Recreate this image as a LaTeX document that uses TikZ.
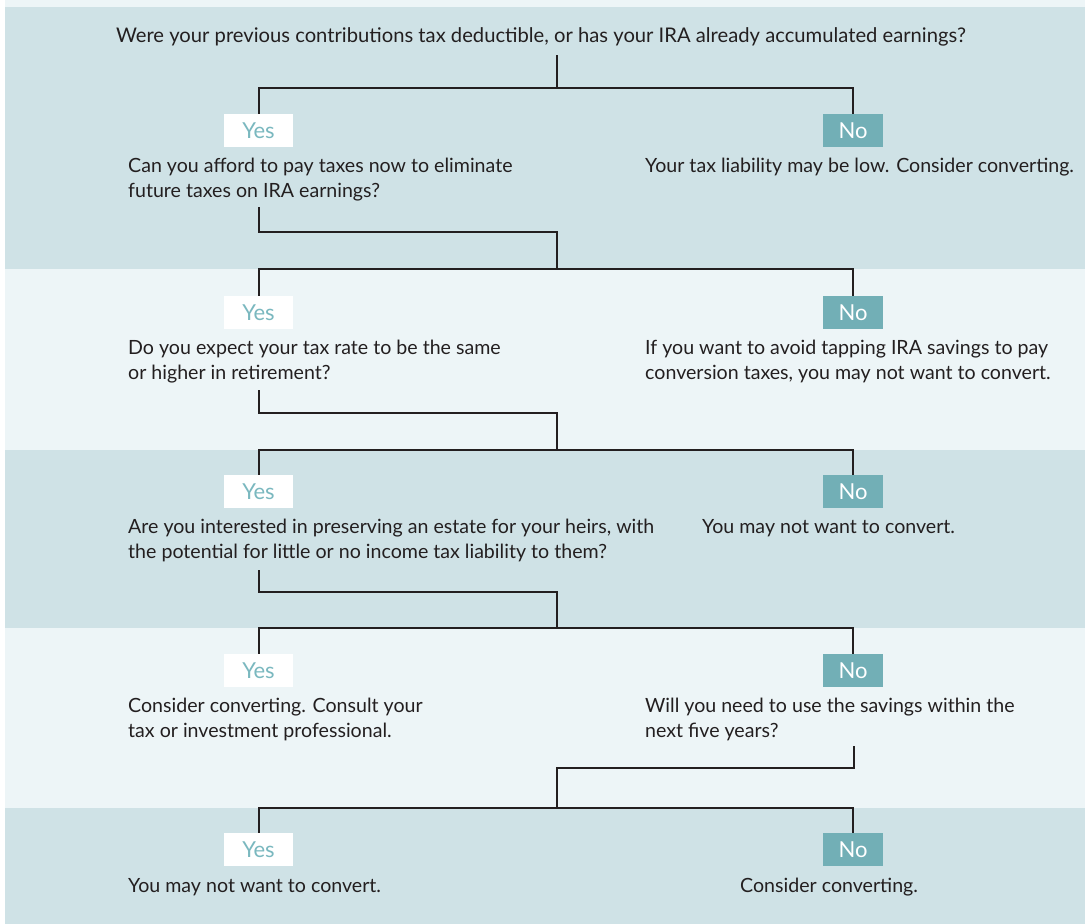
\documentclass[tikz,border=0pt]{standalone}
\usepackage{fontspec}
\setmainfont{Lato}
\definecolor{bandDark}{HTML}{CFE2E6}
\definecolor{bandLight}{HTML}{EDF5F7}
\definecolor{teal}{HTML}{72AFB6}
\definecolor{yesText}{HTML}{7AB8BF}
\definecolor{ink}{HTML}{231F20}
\begin{document}
\begin{tikzpicture}[x=1pt,y=-1pt,
  txt/.style={anchor=base west, inner sep=0pt, align=left, text=ink,
    font=\fontsize{19.6}{25}\selectfont},
  yesbox/.style={fill=white, text=yesText, minimum width=69pt, minimum height=33pt,
    inner sep=0pt, font=\fontsize{22}{24}\selectfont},
  nobox/.style={fill=teal, text=white, minimum width=60pt, minimum height=33pt,
    inner sep=0pt, font=\fontsize{22}{24}\selectfont},
  conn/.style={draw=ink, line width=2pt}]
\useasboundingbox (0,0) rectangle (1085,924);
% bands
\fill[bandLight] (5,0) rectangle (1085,924);
\fill[bandDark] (5,7) rectangle (1085,269);
\fill[bandDark] (5,450) rectangle (1085,628);
\fill[bandDark] (5,808) rectangle (1085,924);

% question 1
\node[anchor=base, inner sep=0pt, text=ink, font=\fontsize{20.2}{25}\selectfont] (q1) at (541,42)
  {Were your previous contributions tax deductible, or has your IRA already accumulated earnings?};

% row 1 (two-line nodes: base anchor = last line)
\node[yesbox] (y1) at (258.5,130.5) {Yes};
\node[nobox] (n1) at (853,130.5) {No};
\node[txt] (ty1) at (128,197) {Can you afford to pay taxes now to eliminate\\future taxes on IRA earnings?};
\node[txt] (tn1) at (645,172) {Your tax liability may be low. Consider converting.};

% row 2
\node[yesbox] (y2) at (258.5,312.5) {Yes};
\node[nobox] (n2) at (853,312.5) {No};
\node[txt] (ty2) at (128,379) {Do you expect your tax rate to be the same\\or higher in retirement?};
\node[txt] (tn2) at (645,379) {If you want to avoid tapping IRA savings to pay\\conversion taxes, you may not want to convert.};

% row 3
\node[yesbox] (y3) at (258.5,491.5) {Yes};
\node[nobox] (n3) at (853,491.5) {No};
\node[txt] (ty3) at (128,558) {Are you interested in preserving an estate for your heirs, with\\the potential for little or no income tax liability to them?};
\node[txt] (tn3) at (702,533) {You may not want to convert.};

% row 4
\node[yesbox] (y4) at (258.5,670.5) {Yes};
\node[nobox] (n4) at (853,670.5) {No};
\node[txt] (ty4) at (128,737) {Consider converting. Consult your\\tax or investment professional.};
\node[txt] (tn4) at (645,737) {Will you need to use the savings within the\\next five years?};

% row 5
\node[yesbox] (y5) at (258.5,849.5) {Yes};
\node[nobox] (n5) at (853,849.5) {No};
\node[txt] (ty5) at (128,892) {You may not want to convert.};
\node[txt] (tn5) at (740,892) {Consider converting.};

% connector coordinates
\coordinate (s0) at (557,55);
\coordinate (j0) at (557,88);
\coordinate (s1) at (259,207);
\coordinate (k1) at (557,232);
\coordinate (j1) at (557,269);
\coordinate (s2) at (259,390);
\coordinate (k2) at (557,413);
\coordinate (j2) at (557,450);
\coordinate (s3) at (259,570);
\coordinate (k3) at (557,592);
\coordinate (j3) at (557,628);
\coordinate (s4) at (854,746);
\coordinate (k4) at (557,768);
\coordinate (j4) at (557,808);

\draw[conn] (s0) -- (j0);
\draw[conn] (y1.north) |- (j0) -| (n1.north);
\draw[conn] (s1) |- (k1) -- (j1);
\draw[conn] (y2.north) |- (j1) -| (n2.north);
\draw[conn] (s2) |- (k2) -- (j2);
\draw[conn] (y3.north) |- (j2) -| (n3.north);
\draw[conn] (s3) |- (k3) -- (j3);
\draw[conn] (y4.north) |- (j3) -| (n4.north);
\draw[conn] (s4) |- (k4) -- (j4);
\draw[conn] (y5.north) |- (j4) -| (n5.north);
\end{tikzpicture}
\end{document}
